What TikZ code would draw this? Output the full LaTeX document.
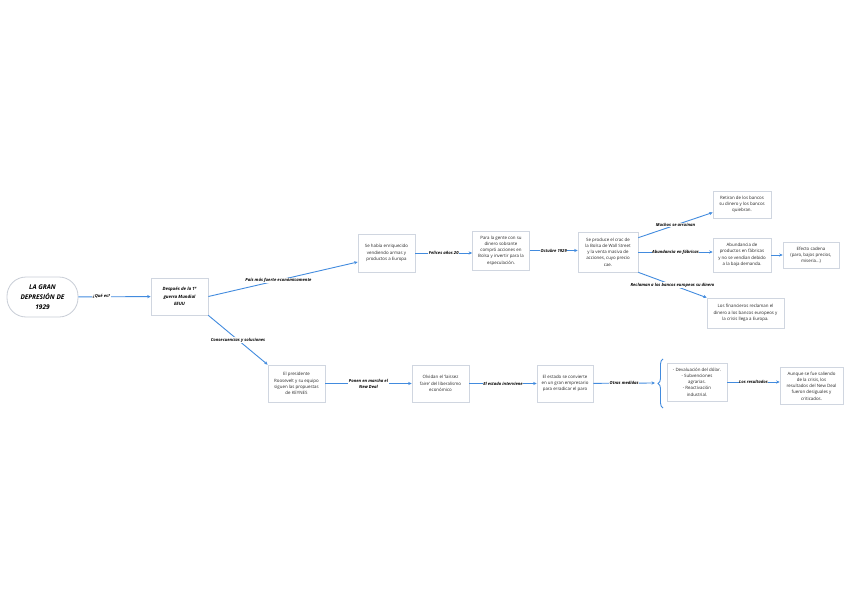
\documentclass[tikz,border=0pt]{standalone}
\usepackage{fontspec}
\setmainfont{Open Sans}
\usetikzlibrary{arrows.meta,decorations.pathreplacing}
\definecolor{linkblue}{RGB}{66,139,222}
\definecolor{boxgray}{RGB}{208,214,224}
\definecolor{txtgray}{RGB}{40,40,40}
\tikzset{
    box/.style={draw=boxgray, fill=white, line width=0.7pt, align=center,
        text=txtgray, font=\fontsize{4.4}{6.3}\selectfont, inner sep=2pt,
        minimum width=57pt},
    lbl/.style={fill=white, text=black, align=center, inner sep=0.6pt,
        font=\fontsize{4.2}{6}\selectfont\bfseries\itshape},
    arr/.style={draw=linkblue, line width=0.9pt, -{Stealth[length=3.5pt,width=3.2pt]}}
}
\begin{document}
\begin{tikzpicture}[x=1pt,y=-1pt]
    \useasboundingbox (0,0) rectangle (848,599);
    % tema principal
    \node[box, draw=boxgray!90!gray, line width=0.8pt, rounded corners=19pt,
        minimum width=71pt, minimum height=40pt, text=black,
        font=\fontsize{6.5}{9.8}\selectfont\bfseries\itshape] (root) at (42.5,297)
        {LA GRAN\\DEPRESIÓN DE\\1929};
    \node[box, minimum height=37pt, text=black,
        font=\fontsize{4.4}{7.8}\selectfont\bfseries\itshape] (desp) at (179.5,296.5)
        {Después de la 1ª\\guerra Mundial\\EEUU};
    % rama superior
    \node[box, minimum height=38pt] (enriq) at (386.5,253)
        {Se había enriquecido\\vendiendo armas y\\productos a Europa};
    \node[box, minimum height=39pt] (gente) at (501,250.5)
        {Para la gente con su\\dinero sobrante\\compró acciones en\\Bolsa y invertir para la\\especulación.};
    \node[box, minimum width=60pt, minimum height=40pt] (crac) at (608,252)
        {Se produce el crac de\\la Bolsa de Wall Street\\y la venta masiva de\\acciones, cuyo precio\\cae.};
    \node[box, minimum width=58pt, minimum height=27pt] (ret) at (742,204.5)
        {Retiran de los bancos\\su dinero y los bancos\\quiebran.};
    \node[box, minimum width=58pt, minimum height=34pt] (abund) at (742,255)
        {Abundancia de\\productos en fábricas\\y no se vendían debido\\a la baja demanda.};
    \node[box, minimum width=56pt, minimum height=26pt] (efecto) at (811,255)
        {Efecto cadena\\(paro, bajos precios,\\miseria...)};
    \node[box, minimum width=77pt, minimum height=30pt] (fin) at (745.5,313)
        {Los financieros reclaman el\\dinero a los bancos europeos y\\la crisis llega a Europa.};
    % rama inferior
    \node[box, minimum height=37pt] (roos) at (296.5,383.5)
        {El presidente\\Roosevelt y su equipo\\siguen las propuestas\\de KEYNES};
    \node[box, minimum height=37pt] (olvid) at (440.5,383.5)
        {Olvidan el `laissez\\faire' del liberalismo\\económico};
    \node[box, minimum width=56pt, minimum height=37pt] (emp) at (565,383.5)
        {El estado se convierte\\en un gran empresario\\para erradicar el paro};
    \node[box, minimum width=60pt, minimum height=38pt] (lista) at (697,382)
        {- Devaluación del dólar.\\- Subvenciones\\agrarias.\\- Reactivación\\industrial.};
    \node[box, minimum width=63pt, minimum height=37pt] (result) at (811.5,386)
        {Aunque se fue saliendo\\de la crisis, los\\resultados del New Deal\\fueron desiguales y\\criticados.};
    \coordinate (llave) at (655,383);
    \draw[linkblue, line width=0.9pt, decorate,
        decoration={brace, amplitude=5pt}] (663,408) -- (663,359);
    % conectores
    \draw[arr] (root) -- (desp) node[lbl, pos=0.32] {¿Qué es?};
    \draw[arr] (desp.east) -- ([yshift=-9pt]enriq.west)
        node[lbl, pos=0.47] {País más fuerte económicamente};
    \draw[arr] (enriq.east) -- (enriq.east -| gente.west) node[lbl, midway] {Felices años 20};
    \draw[arr] (gente.east) -- (gente.east -| crac.west) node[lbl, midway] {Octubre 1929};
    \draw[arr] ([yshift=-6pt]crac.north east) -- ([yshift=-8pt]ret.west)
        node[lbl, midway] {Muchos se arruinan};
    \draw[arr] (crac.east) -- (crac.east -| abund.west) node[lbl, midway] {Abundancia en fábricas};
    \draw[arr] (abund.east) -- (abund.east -| efecto.west);
    \draw[arr] (crac.south east) -- (fin.north west)
        node[lbl, midway] {Reclaman a los bancos europeos su dinero};
    \draw[arr] (desp.south east) -- (roos.north west)
        node[lbl, midway] {Consecuencias y soluciones};
    \draw[arr] (roos) -- (olvid) node[lbl, midway] {Ponen en marcha el\\New Deal};
    \draw[arr] (olvid) -- (emp) node[lbl, midway] {El estado interviene};
    \draw[arr] (emp) -- (llave) node[lbl, midway] {Otras medidas};
    \draw[arr] (lista.east) -- (lista.east -| result.west) node[lbl, midway] {Los resultados};
\end{tikzpicture}
\end{document}
